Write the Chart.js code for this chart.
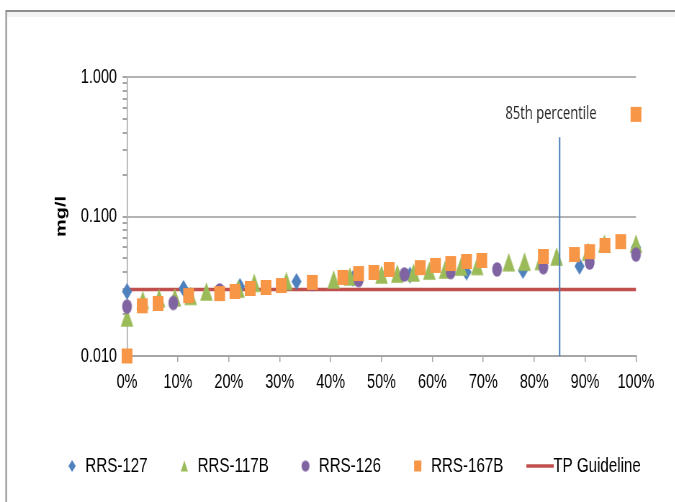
<!DOCTYPE html>
<html>
<head>
<meta charset="utf-8">
<script src="https://cdn.jsdelivr.net/npm/chart.js@4/dist/chart.umd.min.js"></script>
<style>
  html, body { margin: 0; padding: 0; background: #fff; width: 675px; height: 502px; overflow: hidden; }
  /* the chart is laid out wide and squeezed horizontally to get the narrow lettering */
  #wrap { position: absolute; left: 0; top: 0; width: 938px; height: 502px; transform: scaleX(0.72); transform-origin: 0 0; }
</style>
</head>
<body>
<div id="wrap"><canvas id="chart"></canvas></div>
<script>
// Percentile positions (%) and concentrations (mg/l) per station
const rrs127X = [0, 11.1, 22.2, 33.3, 44.4, 55.6, 66.7, 77.8, 88.9, 100];
const rrs127Y = [0.029, 0.0305, 0.0315, 0.0342, 0.036, 0.038, 0.040, 0.041, 0.044, 0.060];

const rrs117bX = [0, 3.1, 6.3, 9.4, 12.5, 15.6, 21.9, 25.0, 31.3, 40.6, 43.8, 50.0, 53.1,
                  56.3, 59.4, 62.5, 65.6, 68.8, 75.0, 78.1, 81.3, 84.4, 90.6, 93.8, 100];
const rrs117bY = [0.0189, 0.0252, 0.026, 0.0263, 0.027, 0.029, 0.0305, 0.0335, 0.0345, 0.0354, 0.0372, 0.0384, 0.039,
                  0.0397, 0.041, 0.0417, 0.0438, 0.0442, 0.047, 0.0475, 0.048, 0.0517, 0.056, 0.064, 0.064];

const rrs126X = [0, 9.1, 18.2, 27.3, 36.4, 45.5, 54.5, 63.6, 72.7, 81.8, 90.9, 100];
const rrs126Y = [0.0226, 0.024, 0.0295, 0.031, 0.033, 0.035, 0.0384, 0.040, 0.0417, 0.0433, 0.0468, 0.0534];

const rrs167bX = [0, 3.0, 6.1, 12.1, 18.2, 21.2, 24.2, 27.3, 30.3, 36.4, 42.4, 45.5, 48.5,
                  51.5, 57.6, 60.6, 63.6, 66.7, 69.7, 81.8, 87.9, 90.9, 93.9, 97.0, 100];
const rrs167bY = [0.010, 0.0229, 0.0238, 0.0271, 0.028, 0.029, 0.0305, 0.031, 0.032, 0.0337, 0.0366, 0.039, 0.0397,
                  0.0417, 0.043, 0.0446, 0.046, 0.0476, 0.0484, 0.0517, 0.0534, 0.056, 0.062, 0.066, 0.54];

const tpGuideline = 0.03;          // mg/l
const guidelineX = [0, 100];
const percentile85 = 85;           // %
const percentileLineY = [0.01, 0.37];
const percentileLabel = '85th percentile';
const percentileLabelAt = { x: 83.3, y: 0.54 };

const xTicks = [0, 10, 20, 30, 40, 50, 60, 70, 80, 90, 100];
const yTicks = [0.01, 0.02, 0.03, 0.04, 0.05, 0.06, 0.07, 0.08, 0.09,
                0.1, 0.2, 0.3, 0.4, 0.5, 0.6, 0.7, 0.8, 0.9, 1];
const yMajorTicks = [0.01, 0.1, 1];

const seriesNames = ['RRS-127', 'RRS-117B', 'RRS-126', 'RRS-167B', 'TP Guideline'];
const colors = { blue: '#4f81bd', green: '#9bbb59', purple: '#8064a2', orange: '#f79646', red: '#c0504d', vline: '#4a7ebb' };

const pts = (xs, ys) => xs.map((x, i) => ({ x: x, y: ys[i] }));

function marker(shape, w, h, color) {
  const c = document.createElement('canvas');
  c.width = Math.ceil(w) + 2;
  c.height = Math.ceil(h) + 2;
  const g = c.getContext('2d');
  const cx = c.width / 2, cy = c.height / 2;
  g.fillStyle = color;
  g.beginPath();
  if (shape === 'rect') {
    g.rect(cx - w / 2, cy - h / 2, w, h);
  } else if (shape === 'circle') {
    g.ellipse(cx, cy, w / 2, h / 2, 0, 0, Math.PI * 2);
  } else if (shape === 'triangle') {
    g.moveTo(cx, cy - h / 2); g.lineTo(cx + w / 2, cy + h / 2); g.lineTo(cx - w / 2, cy + h / 2); g.closePath();
  } else if (shape === 'diamond') {
    g.moveTo(cx, cy - h / 2); g.lineTo(cx + w / 2, cy); g.lineTo(cx, cy + h / 2); g.lineTo(cx - w / 2, cy); g.closePath();
  }
  g.fill();
  return c;
}

const markers = {
  blue: marker('diamond', 14, 17, colors.blue),
  green: marker('triangle', 17.5, 18.5, colors.green),
  purple: marker('circle', 13.5, 14.5, colors.purple),
  orange: marker('rect', 15, 15, colors.orange)
};
const legendIcons = [
  marker('diamond', 10, 12, colors.blue),
  marker('triangle', 10, 11, colors.green),
  marker('circle', 11, 11, colors.purple),
  marker('rect', 10, 11, colors.orange),
  marker('rect', 38, 3.5, colors.red)
];
const legendColors = [colors.blue, colors.green, colors.purple, colors.orange, colors.red];

const framePlugin = {
  id: 'frame',
  beforeDraw(chart) {
    const ctx = chart.ctx;
    ctx.save();
    ctx.fillStyle = '#ffffff';
    ctx.fillRect(0, 0, chart.width, chart.height);
    ctx.fillStyle = '#f2f2f2';
    ctx.fillRect(9, 12, chart.width, 5);
    ctx.strokeStyle = '#8c8c8c';
    ctx.lineWidth = 2;
    ctx.beginPath();
    ctx.moveTo(8.5, chart.height);
    ctx.lineTo(8.5, 11);
    ctx.lineTo(chart.width, 11);
    ctx.stroke();
    ctx.restore();
  }
};

const percentileLabelPlugin = {
  id: 'pctLabel',
  afterDatasetsDraw(chart) {
    const ctx = chart.ctx;
    const xs = chart.scales.x, ys = chart.scales.y;
    ctx.save();
    ctx.font = '18px "Open Sans"';
    ctx.fillStyle = '#262626';
    ctx.textAlign = 'center';
    ctx.textBaseline = 'middle';
    ctx.fillText(percentileLabel, xs.getPixelForValue(percentileLabelAt.x), ys.getPixelForValue(percentileLabelAt.y));
    ctx.restore();
  }
};

const scatterSet = (label, data, icon, order) => ({
  label: label, data: data, showLine: false, pointStyle: icon,
  pointRadius: 8, pointHoverRadius: 8, order: order, clip: false
});

const labelFont = { family: '"Liberation Sans", Arial, sans-serif', size: 20 };

new Chart(document.getElementById('chart'), {
  type: 'scatter',
  data: {
    datasets: [
      scatterSet(seriesNames[0], pts(rrs127X, rrs127Y), markers.blue, 4),
      scatterSet(seriesNames[1], pts(rrs117bX, rrs117bY), markers.green, 3),
      scatterSet(seriesNames[2], pts(rrs126X, rrs126Y), markers.purple, 2),
      scatterSet(seriesNames[3], pts(rrs167bX, rrs167bY), markers.orange, 1),
      {
        label: seriesNames[4],
        data: guidelineX.map(x => ({ x: x, y: tpGuideline })),
        showLine: true, borderColor: colors.red, borderWidth: 3.5, pointRadius: 0, order: 5, clip: false
      },
      {
        label: percentileLabel,
        data: percentileLineY.map(y => ({ x: percentile85, y: y })),
        showLine: true, borderColor: colors.vline, borderWidth: 2, pointRadius: 0, order: 0, clip: false
      }
    ]
  },
  options: {
    responsive: true,
    maintainAspectRatio: false,
    animation: false,
    events: [],
    layout: { padding: { left: 44, right: 0, top: 77, bottom: 15.5 } },
    scales: {
      x: {
        type: 'linear', min: 0, max: 100,
        afterBuildTicks: s => { s.ticks = xTicks.map(v => ({ value: v })); },
        afterFit: s => { s.height = 56.5; },
        ticks: {
          callback: v => v + '%', autoSkip: false, maxRotation: 0,
          color: '#000', padding: 8, font: labelFont
        },
        grid: { drawOnChartArea: false, drawTicks: true, tickLength: 6, tickColor: '#a6a6a6', lineWidth: 1.5 },
        border: { color: '#a6a6a6', width: 2 }
      },
      y: {
        type: 'logarithmic', min: 0.01, max: 1,
        afterBuildTicks: s => { s.ticks = yTicks.map(v => ({ value: v })); },
        afterFit: s => { s.width = 132.4; },
        ticks: {
          callback: v => (yMajorTicks.includes(v) ? v.toFixed(3) : ''), autoSkip: false,
          color: '#000', padding: 8, font: labelFont
        },
        grid: {
          color: c => (c.tick && yMajorTicks.includes(c.tick.value) ? '#b3b3b3' : 'rgba(0,0,0,0)'),
          lineWidth: 2, drawTicks: true, tickLength: 6, tickColor: '#a6a6a6'
        },
        border: { color: '#a6a6a6', width: 1.5 },
        title: {
          display: true, text: 'mg/l', color: '#000', padding: { top: 29, bottom: 0 },
          font: { family: '"Liberation Sans", Arial, sans-serif', size: 20, weight: 'bold' }
        }
      },
      // empty right-hand axis that only reserves the margin right of the plot
      yRight: {
        type: 'linear', position: 'right', display: true,
        ticks: { display: false }, grid: { display: false, drawTicks: false }, border: { display: false },
        afterFit: s => { s.width = 54.7; }
      }
    },
    plugins: {
      tooltip: { enabled: false },
      legend: {
        position: 'bottom',
        labels: {
          usePointStyle: true, boxWidth: 16, boxHeight: 16, padding: 43, color: '#000',
          font: { family: '"Liberation Sans", Arial, sans-serif', size: 21 },
          generateLabels: () => seriesNames.map((name, i) => ({
            text: name, pointStyle: legendIcons[i], fillStyle: legendColors[i],
            strokeStyle: 'rgba(0,0,0,0)', lineWidth: 0, hidden: false, datasetIndex: i
          }))
        }
      }
    }
  },
  plugins: [framePlugin, percentileLabelPlugin]
});
</script>
</body>
</html>
